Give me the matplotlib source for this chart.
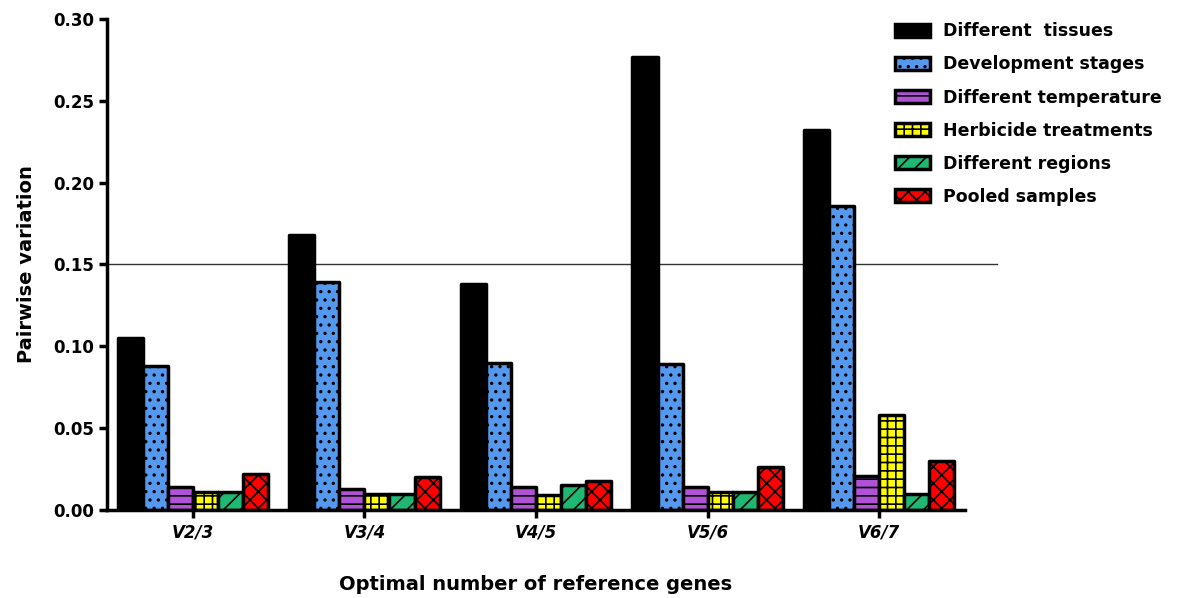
import matplotlib
matplotlib.use("Agg")
import matplotlib.pyplot as plt
import numpy as np

categories = ["V2/3", "V3/4", "V4/5", "V5/6", "V6/7"]
series_names = ["Different  tissues", "Development stages", "Different temperature",
                "Herbicide treatments", "Different regions", "Pooled samples"]
different_tissues = [0.105, 0.168, 0.138, 0.277, 0.232]
development_stages = [0.088, 0.139, 0.090, 0.089, 0.186]
different_temperature = [0.014, 0.013, 0.014, 0.014, 0.021]
herbicide_treatments = [0.011, 0.010, 0.009, 0.011, 0.058]
different_regions = [0.011, 0.010, 0.015, 0.011, 0.010]
pooled_samples = [0.022, 0.020, 0.018, 0.026, 0.030]
threshold = 0.15

series = [different_tissues, development_stages, different_temperature,
          herbicide_treatments, different_regions, pooled_samples]
colors = ["#000000", "#5599ee", "#b052d6", "#ffff00", "#1fb873", "#ff0000"]
hatches = [None, "..", "--", "++", "//", "xx"]

plt.rcParams['font.family'] = ['DejaVu Sans']
plt.rcParams['hatch.linewidth'] = 1.2

fig = plt.figure(figsize=(11.79, 5.98), dpi=100)
ax = fig.add_axes([0.0908, 0.1472, 0.7277, 0.821])

x = np.arange(len(categories))
w = 0.146
n = len(series)
for i, (vals, c, h, name) in enumerate(zip(series, colors, hatches, series_names)):
    ax.bar(x + (i - (n - 1) / 2) * w, vals, width=w, color=c, edgecolor="black",
           linewidth=2.5, hatch=h, label=name, joinstyle="round")

ax.plot([0, 1.037], [threshold, threshold], transform=ax.get_yaxis_transform(),
        color="#333333", lw=1, clip_on=False, zorder=0)

ax.set_xlim(-0.5, 4.5)
ax.set_ylim(0, 0.30)
ax.set_yticks(np.arange(0, 0.31, 0.05))
ax.set_yticklabels([f"{v:.2f}" for v in np.arange(0, 0.31, 0.05)],
                   fontsize=12, fontweight="bold")
ax.set_xticks(x)
ax.set_xticklabels(categories, fontsize=12, fontweight="bold", fontstyle="italic")
for s in ["top", "right"]:
    ax.spines[s].set_visible(False)
for s in ["left", "bottom"]:
    ax.spines[s].set_linewidth(2.5)
ax.tick_params(axis="both", width=2.5, length=6, direction="out")
ax.tick_params(axis="x", pad=4)

ax.set_ylabel("Pairwise variation", fontsize=14, fontweight="bold", labelpad=12)
fig.text(0.4545, 0.022, "Optimal number of reference genes", fontsize=14,
         fontweight="bold", ha="center", va="center")

leg = ax.legend(loc="upper left", bbox_to_anchor=(0.9, 1.025), frameon=False,
                prop={"weight": "bold", "size": 12.5},
                handlelength=2.0, handleheight=0.8, labelspacing=0.87,
                handletextpad=0.8)

fig.savefig("out.png", dpi=100, facecolor="white")
